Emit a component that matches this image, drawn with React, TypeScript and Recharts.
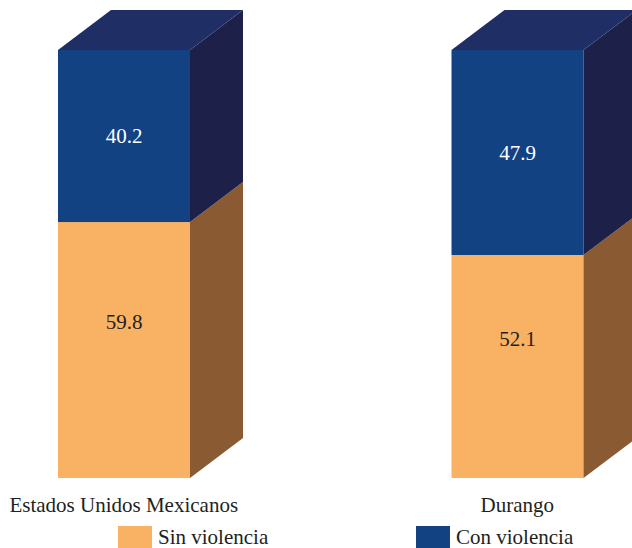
import { BarChart, Bar, XAxis, YAxis, Legend, LabelList } from 'recharts'

const categories = ['Estados Unidos Mexicanos', 'Durango']
const sinViolencia = [59.8, 52.1]
const conViolencia = [40.2, 47.9]

const data = categories.map((name, i) => ({
  name,
  sin: sinViolencia[i],
  con: conViolencia[i],
}))

const FONT =
  "'Times New Roman', Times, Tinos, 'Liberation Serif', 'Nimbus Roman', 'Nimbus Roman No9 L', FreeSerif, 'Noto Serif', 'DejaVu Serif', serif"
const DX = 53
const DY = -40
const SHIFT = 73

const ORANGE = '#F9B264'
const BROWN = '#8A5A33'
const BLUE = '#134283'
const NAVY = '#1D2149'
const TOP = '#1F2F66'

const Box = (props: any) => {
  const { x, y, width, height, front, side, top } = props
  if (!width || height == null) return null
  const r = x + width
  return (
    <g>
      <rect x={x} y={y} width={width} height={height} fill={front} />
      <polygon
        points={`${r},${y} ${r + DX},${y + DY} ${r + DX},${y + height + DY} ${r},${y + height}`}
        fill={side}
      />
      {top && (
        <polygon
          points={`${x},${y} ${x + DX},${y + DY} ${r + DX},${y + DY} ${r},${y}`}
          fill={top}
        />
      )}
    </g>
  )
}

const makeLabel = (color: string, lift: number) => (props: any) => {
  const { x, y, width, height, value } = props
  return (
    <text
      x={x + width / 2}
      y={y + height / 2 - lift + 7}
      textAnchor="middle"
      fill={color}
      fontSize={21}
      style={{ fontFamily: FONT }}
    >
      {value}
    </text>
  )
}

const legendItems = [
  { label: 'Sin violencia', color: ORANGE, x: 118 },
  { label: 'Con violencia', color: BLUE, x: 416 },
]

const LegendContent = () => (
  <svg width={632} height={30} style={{ display: 'block' }}>
    {legendItems.map((it) => (
      <g key={it.label}>
        <rect x={it.x} y={8} width={34} height={30} fill={it.color} />
        <text x={it.x + 40} y={26} fontSize={21} style={{ fontFamily: FONT }} fill="#231F20">
          {it.label}
        </text>
      </g>
    ))}
  </svg>
)

export default function App() {
  return (
    <div
      style={{
        position: 'absolute',
        left: 0,
        top: 0,
        width: 632,
        height: 548,
        overflow: 'hidden',
        background: '#fff',
        fontFamily: FONT,
      }}
    >
      <div style={{ position: 'absolute', left: -SHIFT, top: 0 }}>
        <BarChart
          width={787}
          height={548}
          data={data}
          margin={{ top: 50, right: 0, left: 0, bottom: 0 }}
          barSize={132}
          style={{ fontFamily: FONT }}
        >
          <XAxis
            dataKey="name"
            height={70}
            axisLine={false}
            tickLine={false}
            tickMargin={13}
            interval={0}
            tick={{ fontSize: 21, fill: '#231F20', style: { fontFamily: FONT } }}
          />
          <YAxis hide domain={[0, 100]} />
          <Legend
            layout="horizontal"
            verticalAlign="middle"
            align="center"
            wrapperStyle={{ position: 'absolute', left: SHIFT, top: 518, width: 632, height: 30 }}
            content={<LegendContent />}
          />
          <Bar
            dataKey="sin"
            stackId="a"
            fill={ORANGE}
            isAnimationActive={false}
            shape={(p: any) => <Box {...p} front={ORANGE} side={BROWN} />}
          >
            <LabelList dataKey="sin" content={makeLabel('#231F20', 28)} />
          </Bar>
          <Bar
            dataKey="con"
            stackId="a"
            fill={BLUE}
            isAnimationActive={false}
            shape={(p: any) => <Box {...p} front={BLUE} side={NAVY} top={TOP} />}
          >
            <LabelList dataKey="con" content={makeLabel('#FFFFFF', 0)} />
          </Bar>
        </BarChart>
      </div>
    </div>
  )
}
